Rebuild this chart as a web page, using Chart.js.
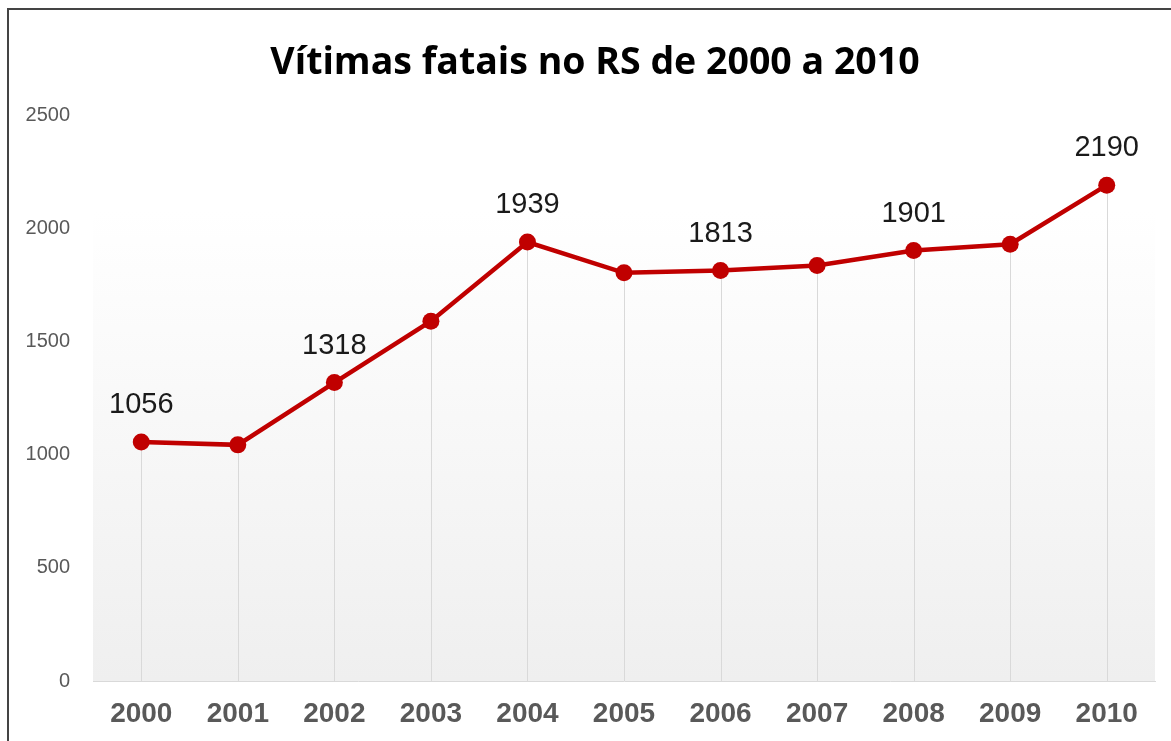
<!DOCTYPE html>
<html>
<head>
<meta charset="utf-8">
<script src="https://cdn.jsdelivr.net/npm/chart.js@4.4.0/dist/chart.umd.min.js"></script>
<style>
  html, body { margin: 0; padding: 0; background: #fff; }
  #wrap { position: relative; width: 1171px; height: 741px; overflow: hidden; }
  #frame {
    position: absolute; left: 7px; top: 8px; width: 1300px; height: 800px;
    border-top: 2px solid #444; border-left: 2px solid #444; pointer-events: none;
  }
  canvas { position: absolute; left: 0; top: 0; }
</style>
</head>
<body>
<div id="wrap">
  <canvas id="chart" width="1171" height="741"></canvas>
  <div id="frame"></div>
</div>
<script>
const titleText = 'Vítimas fatais no RS de 2000 a 2010';
const years = ['2000', '2001', '2002', '2003', '2004', '2005', '2006', '2007', '2008', '2009', '2010'];
const victims = [1056, 1043, 1318, 1589, 1939, 1803, 1813, 1835, 1901, 1929, 2190];
const shownLabels = [1056, null, 1318, null, 1939, null, 1813, null, 1901, null, 2190];
const yTicks = [0, 500, 1000, 1500, 2000, 2500];

const titleFont = 'bold 37.5px "Open Sans", Lato, sans-serif';

// gradient plot background + drop lines from each point
const backdrop = {
    id: 'backdrop',
    beforeDatasetsDraw(chart) {
        const { ctx, chartArea, scales } = chart;
        const top = scales.y.getPixelForValue(2075);
        const grad = ctx.createLinearGradient(0, top, 0, chartArea.bottom);
        grad.addColorStop(0, '#ffffff');
        grad.addColorStop(1, '#efefef');
        ctx.save();
        ctx.fillStyle = grad;
        ctx.fillRect(chartArea.left, top, chartArea.right - chartArea.left, chartArea.bottom - top);
        ctx.strokeStyle = '#d9d9d9';
        ctx.lineWidth = 1;
        chart.getDatasetMeta(0).data.forEach(pt => {
            const x = Math.round(pt.x) + 0.5;
            ctx.beginPath();
            ctx.moveTo(x, pt.y);
            ctx.lineTo(x, chartArea.bottom);
            ctx.stroke();
        });
        ctx.restore();
    }
};

// value labels above every other point, plus the title drawn a bit right of centre
const valueLabels = {
    id: 'valueLabels',
    afterDatasetsDraw(chart) {
        const { ctx } = chart;
        ctx.save();
        ctx.font = '29px "Liberation Sans", Arial, sans-serif';
        ctx.fillStyle = '#1a1a1a';
        ctx.textAlign = 'center';
        ctx.textBaseline = 'middle';
        chart.getDatasetMeta(0).data.forEach((pt, i) => {
            if (shownLabels[i] == null) return;
            ctx.fillText(String(shownLabels[i]), pt.x, pt.y - 37);
        });
        ctx.restore();
    },
    afterDraw(chart) {
        const { ctx } = chart;
        const tb = chart.titleBlock;
        ctx.save();
        ctx.font = titleFont;
        ctx.fillStyle = '#000';
        ctx.textAlign = 'center';
        ctx.textBaseline = 'middle';
        ctx.fillText(titleText, 595, tb.top + 40 + 22 + 1);
        ctx.restore();
    }
};

const ctx = document.getElementById('chart').getContext('2d');
new Chart(ctx, {
    type: 'line',
    data: {
        labels: years,
        datasets: [{
            data: victims,
            borderColor: '#c00000',
            backgroundColor: '#c00000',
            borderWidth: 4.5,
            pointRadius: 8.5,
            pointBorderWidth: 0,
            tension: 0,
            fill: false
        }]
    },
    options: {
        responsive: false,
        animation: false,
        layout: { padding: { left: 0, right: 16, top: 0, bottom: 0 } },
        plugins: {
            legend: { display: false },
            tooltip: { enabled: false },
            title: {
                display: true,
                text: titleText,
                color: 'rgba(0,0,0,0)',
                font: { family: '"Open Sans", Lato, sans-serif', size: 37.5, weight: 'bold' },
                padding: { top: 40, bottom: 30 }
            }
        },
        scales: {
            x: {
                offset: true,
                afterFit(scale) { scale.height = 60; },
                grid: { display: false, drawTicks: false },
                border: { display: true, color: '#d9d9d9', width: 1 },
                ticks: {
                    color: '#595959',
                    padding: 16,
                    font: { family: '"Liberation Sans", Arial, sans-serif', size: 28, weight: 'bold' }
                }
            },
            y: {
                min: 0,
                max: 2500,
                afterBuildTicks(scale) { scale.ticks = yTicks.map(v => ({ value: v })); },
                afterFit(scale) { scale.width = 93; },
                grid: { display: false, drawTicks: false },
                border: { display: false },
                ticks: {
                    color: '#595959',
                    padding: 23,
                    callback: v => String(v),
                    font: { family: '"Liberation Sans", Arial, sans-serif', size: 20 }
                }
            }
        }
    },
    plugins: [backdrop, valueLabels]
});
</script>
</body>
</html>
